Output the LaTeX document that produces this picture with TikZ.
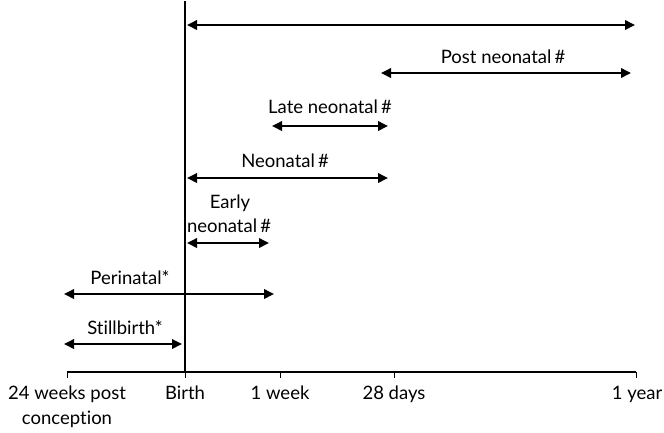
\documentclass[tikz,border=0pt]{standalone}
\usepackage{fontspec}
\setmainfont[Ligatures=NoCommon]{Lato}
\usetikzlibrary{arrows.meta}
\begin{document}
\begin{tikzpicture}[x=1pt,y=-1pt,
  span/.style={line width=1.9pt,{Triangle[length=10pt,width=9.5pt]}-{Triangle[length=10pt,width=9.5pt]}},
  lbl/.style={font=\fontsize{18.5}{24}\selectfont,inner sep=0pt,anchor=base},
  axlbl/.style={font=\fontsize{18.5}{24}\selectfont,inner sep=0pt,anchor=base,align=center},
  tick/.style={line width=0.8pt}]
\useasboundingbox (0,0) rectangle (664,432);
% axis
\coordinate (a0) at (67,372);
\coordinate (a1) at (185,372);
\coordinate (a2) at (280,372);
\coordinate (a3) at (394,372);
\coordinate (a4) at (636,372);
\draw[line width=1.4pt] (a0) -- (a4);
\foreach \c in {a0,a1,a2,a3,a4} \draw[tick] (\c) -- ++(0,6);
\coordinate (vtop) at (185,1);
\draw[line width=1.4pt] (vtop) -- (a1);
% axis labels
\node[axlbl] (l0a) at (67,399) {24 weeks post};
\node[axlbl] (l0b) at (67,424) {conception};
\node[axlbl] (l1) at (185,399) {Birth};
\node[axlbl] (l2) at (280,399) {1 week};
\node[axlbl] (l3) at (394,399) {28 days};
\node[axlbl] (l4) at (637,399) {1 year};
% spans
\coordinate (t0) at (187,25); \coordinate (t1) at (635,25);
\draw[span] (t0) -- (t1);
\coordinate (p0) at (381,73); \coordinate (p1) at (631,73);
\draw[span] (p0) -- (p1);
\node[lbl] (pl) at (503,63) {Post neonatal\,\#};
\coordinate (ln0) at (272,126); \coordinate (ln1) at (388,126);
\draw[span] (ln0) -- (ln1);
\node[lbl] (lnl) at (330,113) {Late neonatal\,\#};
\coordinate (n0) at (187,178); \coordinate (n1) at (388,178);
\draw[span] (n0) -- (n1);
\node[lbl] (nl) at (285,167) {Neonatal\,\#};
\coordinate (e0) at (187,243); \coordinate (e1) at (269,243);
\draw[span] (e0) -- (e1);
\node[lbl] (ela) at (230,208) {Early};
\node[lbl] (elb) at (229,232) {neonatal\,\#};
\coordinate (pe0) at (64,294); \coordinate (pe1) at (274,294);
\draw[span] (pe0) -- (pe1);
\node[lbl] (pel) at (130,284) {Perinatal*};
\coordinate (s0) at (64,344); \coordinate (s1) at (182,344);
\draw[span] (s0) -- (s1);
\node[lbl] (sl) at (125,334) {Stillbirth*};
\end{tikzpicture}
\end{document}
